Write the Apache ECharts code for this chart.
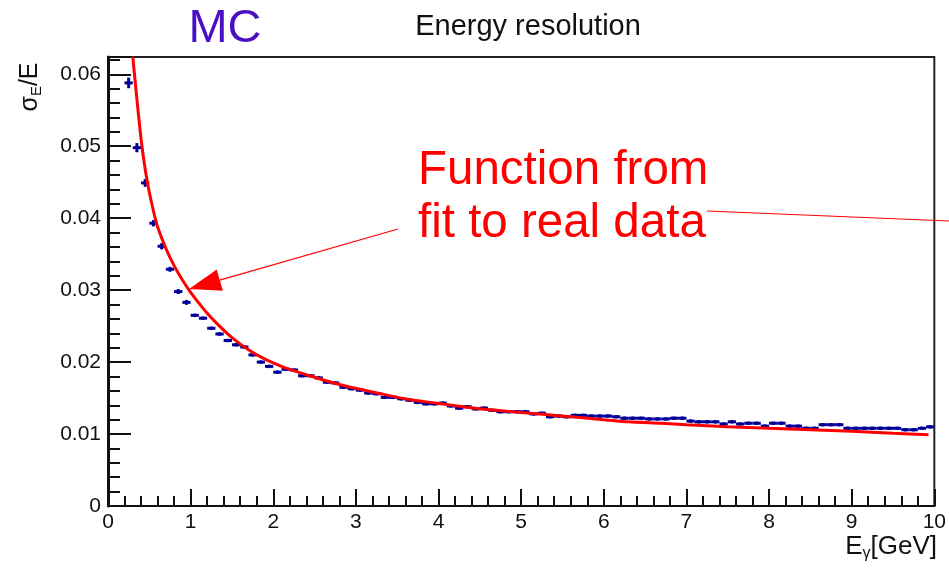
<!DOCTYPE html>
<html>
<head>
<meta charset="utf-8">
<script src="https://cdn.jsdelivr.net/npm/echarts@6/dist/echarts.min.js"></script>
<style>html,body{margin:0;padding:0;background:#fff;}#c{width:949px;height:573px;}</style>
</head>
<body>
<div id="c"></div>
<script>
// ---- data ----
const binWidth = 0.1;
const binCenters = [0.25,0.35,0.45,0.55,0.65,0.75,0.85,0.95,1.05,1.15,1.25,1.35,1.45,1.55,1.65,1.75,1.85,1.95,
  2.05,2.15,2.25,2.35,2.45,2.55,2.65,2.75,2.85,2.95,3.05,3.15,3.25,3.35,3.45,3.55,3.65,3.75,3.85,3.95,
  4.05,4.15,4.25,4.35,4.45,4.55,4.65,4.75,4.85,4.95,5.05,5.15,5.25,5.35,5.45,5.55,5.65,5.75,5.85,5.95,
  6.05,6.15,6.25,6.35,6.45,6.55,6.65,6.75,6.85,6.95,7.05,7.15,7.25,7.35,7.45,7.55,7.65,7.75,7.85,7.95,
  8.05,8.15,8.25,8.35,8.45,8.55,8.65,8.75,8.85,8.95,9.05,9.15,9.25,9.35,9.45,9.55,9.65,9.75,9.85,9.95];
const mcValues = [0.0588,0.0498,0.0449,0.0393,0.0361,0.0329,0.0298,0.0283,0.0265,0.0261,0.0247,0.0239,0.0230,0.0224,0.0221,0.0210,0.0200,0.0194,
  0.0186,0.0190,0.0189,0.0181,0.0181,0.0178,0.0172,0.0171,0.0165,0.0163,0.0161,0.0157,0.0156,0.0151,0.0151,0.0149,0.0147,0.0144,0.0142,0.0142,
  0.0143,0.0139,0.0136,0.0138,0.0135,0.0136,0.0133,0.0131,0.0131,0.0131,0.0131,0.0128,0.0129,0.0124,0.0125,0.0124,0.0126,0.0126,0.0125,0.0125,
  0.0125,0.0124,0.0122,0.0122,0.0122,0.0121,0.0121,0.0121,0.0122,0.0122,0.0118,0.0117,0.0117,0.0117,0.0114,0.0117,0.0114,0.0115,0.0115,0.0111,
  0.0115,0.0115,0.0111,0.0111,0.0108,0.0108,0.0113,0.0113,0.0113,0.0108,0.0108,0.0108,0.0108,0.0108,0.0108,0.0108,0.0106,0.0106,0.0108,0.0110];
const mcErrors = [0.0006,0.0005,0.0004,0.0003,0.0003,0.0002,0.0002,0.0002,0.0001,0.0001,0.0001,0.0001,0.0001,0.0001,0.0001,0.0001,0.0001,0.0001,
  0.0001,0.0001,0.0001,0.0001,0.0001,0.0001,0.0001,0.0001,0.0001,0.0001,0.0001,0.0001,0.0001,0.0001,0.0001,0.0001,0.0001,0.0001,0.0001,0.0001,
  0.0001,0.0001,0.0001,0.0001,0.0001,0.0001,0.0001,0.0001,0.0001,0.0001,0.0001,0.0001,0.0001,0.0001,0.0001,0.0001,0.0001,0.0001,0.0001,0.0001,
  0.0001,0.0001,0.0001,0.0001,0.0001,0.0001,0.0001,0.0001,0.0001,0.0001,0.0001,0.0001,0.0001,0.0001,0.0001,0.0001,0.0001,0.0001,0.0001,0.0001,
  0.0001,0.0001,0.0001,0.0001,0.0001,0.0001,0.0001,0.0001,0.0001,0.0001,0.0001,0.0001,0.0001,0.0001,0.0001,0.0001,0.0001,0.0001,0.0001,0.0001];
const fitX = [0.30,0.35,0.40,0.45,0.50,0.55,0.60,0.70,0.80,0.90,1.00,1.10,1.20,1.35,1.50,1.70,1.90,2.10,2.30,2.50,2.70,2.90,
  3.10,3.30,3.50,3.70,3.90,4.10,4.30,4.50,4.70,5.00,5.30,5.60,5.90,6.30,6.70,7.00,7.50,8.00,8.50,9.00,9.50,9.93];
const fitY = [0.0624,0.0565,0.0510,0.0468,0.0436,0.0410,0.0388,0.0358,0.0334,0.0314,0.0297,0.0282,0.0268,0.0250,0.0234,0.0217,0.0204,0.0194,
  0.0186,0.0179,0.0172,0.0166,0.0161,0.0156,0.0151,0.0147,0.0144,0.0141,0.0138,0.0135,0.0133,0.0130,0.0127,0.0124,0.0121,0.0117,0.0115,0.0113,
  0.0110,0.0108,0.0106,0.0104,0.0101,0.0099];
const xTicks = [0,1,2,3,4,5,6,7,8,9,10];
const yTicks = [0,0.01,0.02,0.03,0.04,0.05,0.06];

const FONT = '"Liberation Sans", Arial, Helvetica, sans-serif';
const BLUE = '#000099';
const RED = '#ff0000';

const chart = echarts.init(document.getElementById('c'), null, {renderer: 'canvas'});

const mcData = binCenters.map((x, i) => [x, mcValues[i], mcErrors[i]]);
const fitData = fitX.map((x, i) => [x, fitY[i]]);

// arrow geometry (annotation)
const tip = [189, 289], tail = [398, 229];
const dx = tail[0] - tip[0], dy = tail[1] - tip[1];
const L = Math.hypot(dx, dy), ux = dx / L, uy = dy / L;
const headLen = 32, headHalf = 11;
const bx = tip[0] + ux * headLen, by = tip[1] + uy * headLen;

const option = {
  animation: false,
  backgroundColor: '#fff',
  grid: {left: 108, right: 11, top: 57, bottom: 67, show: true, borderColor: '#222', borderWidth: 2, backgroundColor: 'transparent'},
  title: [
    {text: 'Energy resolution', left: 523, top: 7, textAlign: 'center',
     textStyle: {fontFamily: FONT, fontSize: 29, fontWeight: 'normal', color: '#111'}},
    {text: 'MC', left: 220, top: 1, textAlign: 'center',
     textStyle: {fontFamily: FONT, fontSize: 47, fontWeight: 'normal', color: '#4a0fc4'}}
  ],
  xAxis: {
    type: 'value', min: 0, max: 10, interval: 1,
    axisLine: {show: true, onZero: false, lineStyle: {color: '#111', width: 2}},
    axisTick: {show: true, inside: true, length: 17, lineStyle: {color: '#111', width: 2}},
    minorTick: {show: true, splitNumber: 5, length: 10, lineStyle: {color: '#111', width: 2}},
    splitLine: {show: false},
    axisLabel: {fontFamily: FONT, fontSize: 21, color: '#111', margin: 6,
      formatter: v => xTicks.includes(v) ? String(v) : ''}
  },
  yAxis: {
    type: 'value', min: 0, max: 0.0624, interval: 0.01,
    axisLine: {show: true, onZero: false, lineStyle: {color: '#111', width: 3}},
    axisTick: {show: true, inside: true, length: 23, lineStyle: {color: '#111', width: 2}},
    minorTick: {show: true, splitNumber: 5, length: 12, lineStyle: {color: '#111', width: 2}},
    splitLine: {show: false},
    axisLabel: {fontFamily: FONT, fontSize: 21, color: '#111', margin: 7,
      formatter: v => {
        const t = yTicks.find(k => Math.abs(k - v) < 1e-9);
        if (t === undefined) return '';
        return t === 0 ? '0' : t.toFixed(2);
      }}
  },
  series: [
    {
      type: 'custom', name: 'MC', clip: true, z: 3,
      data: mcData,
      renderItem: (params, api) => {
        const x = api.value(0), y = api.value(1), e = api.value(2);
        const a = api.coord([x - binWidth / 2, y]);
        const b = api.coord([x + binWidth / 2, y]);
        const t = api.coord([x, y + e]);
        const d = api.coord([x, y - e]);
        return {type: 'group', children: [
          {type: 'line', shape: {x1: a[0], y1: a[1], x2: b[0], y2: b[1]}, style: {stroke: BLUE, lineWidth: 3}},
          {type: 'line', shape: {x1: t[0], y1: t[1] - 1, x2: d[0], y2: d[1] + 1}, style: {stroke: BLUE, lineWidth: 3}}
        ]};
      }
    },
    {
      type: 'line', name: 'fit', data: fitData, smooth: 0.2, showSymbol: false, z: 4,
      lineStyle: {color: RED, width: 3}, clip: true
    }
  ],
  graphic: [
    {type: 'text', left: 418, top: 147, style: {text: 'Function from', font: '47.5px ' + FONT, fill: RED}},
    {type: 'text', left: 418, top: 200, style: {text: 'fit to real data', font: '47.5px ' + FONT, fill: RED}},
    {type: 'line', shape: {x1: tail[0], y1: tail[1], x2: bx, y2: by}, style: {stroke: RED, lineWidth: 1.2}, z: 10},
    {type: 'polygon', shape: {points: [tip, [bx - uy * headHalf, by + ux * headHalf], [bx + uy * headHalf, by - ux * headHalf]]},
     style: {fill: RED}, z: 10},
    {type: 'line', shape: {x1: 707, y1: 211, x2: 949, y2: 221}, style: {stroke: RED, lineWidth: 1.2}, z: 10},
    {type: 'text', x: 30, y: 87, rotation: Math.PI / 2,
     style: {text: '{m|σ}{s|E}{m|/E}', align: 'center', verticalAlign: 'middle',
       rich: {m: {fontFamily: FONT, fontSize: 25, fill: '#111'}, s: {fontFamily: FONT, fontSize: 15, fill: '#111', padding: [13, 0, 0, 0]}}}},
    {type: 'text', right: 12, top: 534,
     style: {text: '{m|E}{s|γ}{m|[GeV]}',
       rich: {m: {fontFamily: FONT, fontSize: 26, fill: '#111'}, s: {fontFamily: FONT, fontSize: 16, fill: '#111', padding: [13, 0, 0, 0]}}}}
  ]
};
chart.setOption(option);
</script>
</body>
</html>
